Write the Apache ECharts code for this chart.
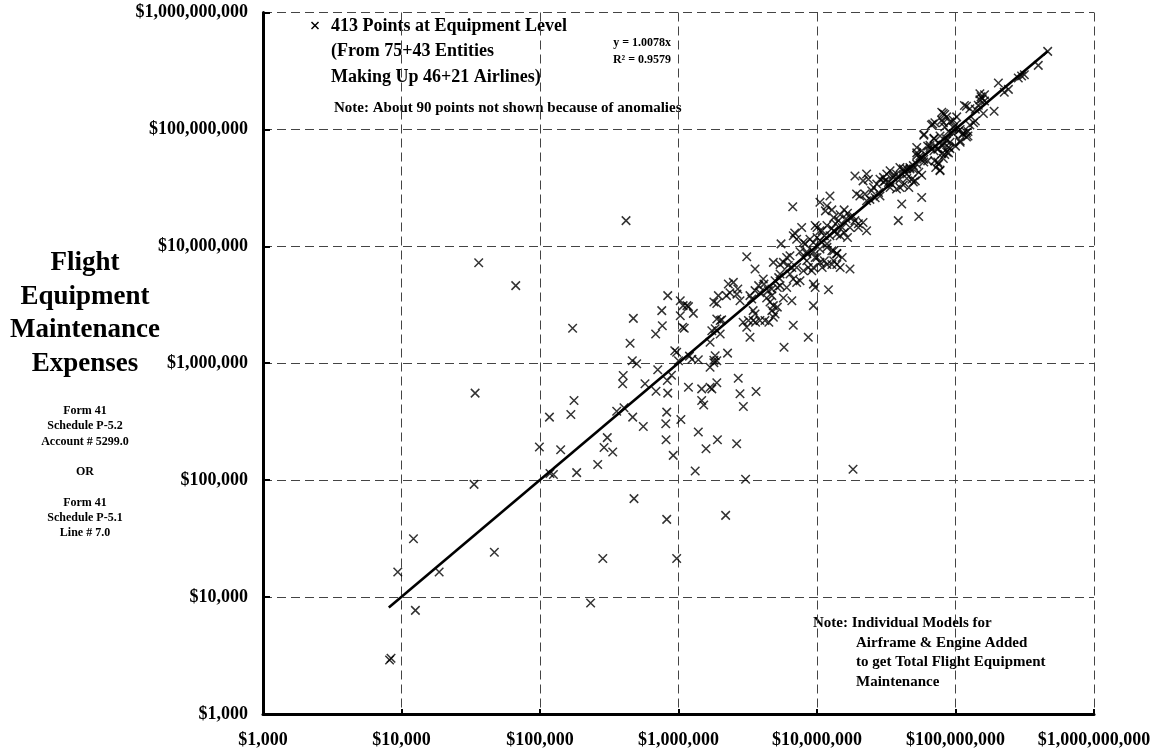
<!DOCTYPE html>
<html>
<head>
<meta charset="utf-8">
<script src="https://cdn.jsdelivr.net/npm/echarts@6/dist/echarts.min.js"></script>
<style>
html,body{margin:0;padding:0;background:#fff;}
#chart{width:1157px;height:754px;}
</style>
</head>
<body>
<div id="chart"></div>
<script>
// ---- Data (x = reported/modelled cost, y = flight equipment maintenance expenses), USD ----
const axisTicks = [1e3, 1e4, 1e5, 1e6, 1e7, 1e8, 1e9];

const lowPoints = [
[9400,16400],[12200,31600],[18700,16400],[12600,7700],[8200,2900],[8400,3000],
[46800,24200],[284000,21400],[970000,21400],[232000,8900],
[418000,16600000],[36100,7240000],[66800,4610000],[172000,1990000],[34000,555000],[33400,92000],
[447000,1480000],[464000,1050000],[499000,990000],[472000,2420000],[836000,3790000],
[1030000,3430000],[1080000,3110000],[757000,2820000],[1030000,2550000],[764000,2090000],
[684000,1780000],[1070000,2030000],[970000,1240000],[708000,879000],[399000,785000],
[395000,667000],[573000,667000],[688000,577000],[830000,711000],[836000,555000],
[176000,480000],[117000,346000],[167000,365000],[358000,389000],[404000,416000],
[467000,346000],[557000,288000],[822000,382000],[809000,304000],[1040000,330000],
[813000,222000],[99000,192000],[141000,182000],[306000,231000],[290000,190000],
[335000,174000],[916000,163000],[261000,136000],[184000,116000],[118000,114000],
[125000,112000],[1320000,120000],[477000,69500],[822000,46200],[1390000,258000],
[1180000,624000],[1200000,1150000],[1250000,1080000]
];

const midPoints = [
[3280000,1670000],[8650000,1670000],[5780000,1370000],[2260000,1220000],[1840000,1160000],
[1800000,1060000],[1690000,1510000],[2000000,1780000],[1470000,604000],[1690000,624000],
[1740000,604000],[1890000,680000],[2700000,745000],[2780000,548000],[3630000,573000],
[2940000,427000],[1470000,480000],[1520000,440000],[1910000,222000],[1580000,186000],
[2630000,205000],[3050000,102000],[2190000,50000],[18200000,124000],
[1150000,3110000],[1180000,3050000],[1280000,2670000],[1100000,1990000],[940000,1280000],
[1390000,1070000],[1000000,1050000],[890000,790000],
[1740000,1900000],[1840000,1970000],[1890000,2390000],[2000000,2320000],[2050000,2350000],
[1800000,3340000],[1890000,3240000],[1940000,3790000],
[2290000,4770000],[2490000,4920000],[2680000,4320000],[2350000,4010000],[2220000,3790000],
[2640000,3900000],[2780000,3430000],
[3110000,8150000],[3570000,6400000],[3280000,3790000],[3380000,3550000],[3570000,4180000],
[3790000,4610000],[3870000,4010000],[4090000,5260000],[4140000,4750000],
[3460000,2820000],[3570000,2640000],[2930000,2240000],[3200000,2320000],[3110000,2030000],
[3460000,2320000],[3600000,2240000],[3870000,2320000],[4210000,2320000],[4490000,2240000],
[4840000,2470000],[4980000,2640000],[4580000,3340000],[4840000,3110000],[5170000,3020000],
[4330000,3620000],[4720000,3790000],
[4450000,4180000],[4720000,4320000],[5170000,4440000],[5410000,4610000],[4980000,5080000],
[5290000,5400000],[5410000,5790000],
[4840000,7290000],[5410000,7000000],[5720000,7290000],[6040000,8030000],[6380000,8300000],
[6200000,6860000],[6580000,6600000],
[5500000,10500000],[6740000,12300000],[7130000,11500000],[7750000,14500000],[7970000,10800000],
[7540000,9000000],[8440000,8660000],
[6740000,5260000],[7130000,4900000],[7540000,5080000],[6580000,3430000],[9160000,6190000],
[8660000,6600000],[9420000,4750000],[9700000,4450000],[12100000,4260000],[9420000,3110000],
[6740000,2110000],
[10000000,14500000],[10900000,13600000],[11800000,15100000],[12800000,14200000],[13900000,12700000],
[10500000,11200000],[11800000,10500000],[12800000,9170000],[13900000,8660000],[13200000,7540000],
[11800000,7000000],[10900000,6600000],[13900000,7000000],
[9420000,9000000],[10000000,8030000],[10500000,7290000],
[1690000,925000],[1800000,1010000],[1890000,1050000],
[4720000,2820000],[5720000,3620000],[6040000,4440000],[6380000,5790000],[7130000,6600000],
[7970000,6190000],[8440000,7540000],
[6680000,21800000],[6900000,13000000]
];

const upperPoints = [
[12400000,26900000],[10500000,23800000],[11800000,22100000],[12800000,20500000],[11500000,20100000],
[15700000,20500000],[16600000,19200000],[14700000,18600000],[17300000,17600000],[16200000,17200000],
[18200000,18100000],[18800000,16600000],[19900000,15600000],[21500000,16000000],[22800000,13600000],
[9700000,15100000],[10500000,13600000],[13200000,13600000],[11300000,12300000],[10000000,11900000],
[8890000,11500000],[12400000,12300000],[14700000,12300000],[16600000,11900000],[15700000,13100000],
[14300000,16600000],[13200000,17600000],[13600000,15600000],[15200000,14500000],[17300000,14500000],
[19900000,14500000],
[8200000,10500000],[9420000,10800000],[10500000,9500000],[11800000,9800000],[13200000,9170000],
[8440000,9000000],[7970000,8030000],[9700000,8030000],[11300000,7540000],[12800000,7000000],
[14700000,6600000],[17300000,6400000],[9420000,6600000],[13900000,8660000],[15200000,8030000],
[39700000,47300000],[42000000,44300000],[44500000,45900000],[37500000,41500000],[35500000,38900000],
[33700000,44300000],[31900000,41500000],[30200000,38900000],[28500000,37500000],[31000000,36300000],
[32800000,35200000],[34600000,34100000],[39700000,37500000],[44500000,41500000],[48400000,37500000],
[51200000,36300000],[46000000,31900000],[39700000,31900000],[37500000,30900000],[33700000,31900000],
[27000000,34100000],[25600000,31900000],[24800000,29900000],[27800000,28900000],[28500000,26900000],
[26300000,26000000],[24100000,25200000],[22200000,28000000],[22800000,24500000],[20400000,26900000],
[19300000,28000000],[18800000,40000000],[22800000,41500000],[23500000,37500000],[21500000,36300000],
[40900000,23000000],[57000000,26200000],[38600000,16600000],[54300000,18000000],
[30200000,35500000],[35500000,40500000],[42000000,46000000]
];

const topPoints = [
[68400000,111000000],[81700000,114000000],[135000000,114000000],[59300000,91000000],[69900000,84000000],
[77300000,88000000],[96400000,104000000],[105000000,97000000],[113000000,91000000],[120000000,94000000],
[108000000,79800000],[123000000,88000000],[86300000,79800000],[79600000,73000000],[89000000,63000000],
[83600000,61000000],[65400000,70000000],[69900000,65600000],[74500000,67600000],
[52500000,63000000],[55400000,59100000],[59000000,55500000],[63000000,53800000],
[70800000,53800000],[75500000,50500000],[72000000,47300000],[77300000,44300000],
[46900000,47300000],[49600000,45900000],[52500000,50500000],
[463000000,465000000],[396000000,353000000],[300000000,286000000],[284000000,275000000],
[314000000,294000000],[241000000,220000000],[225000000,208000000],[204000000,249000000],
[150000000,202000000],[153000000,190000000],[156000000,183000000],[162000000,198000000],
[150000000,179000000],[190000000,143000000],[159000000,137000000],[139000000,149000000],
[127000000,150000000],[120000000,158000000],[116000000,160000000],
[102000000,128000000],[96400000,120000000],[100000000,109000000],[108000000,100000000],
[113000000,92000000],[120000000,86000000],
[81700000,137000000],[86300000,128000000],[79600000,120000000],[91200000,116000000],
[83600000,105000000],[89000000,96000000],[96400000,92000000],[86300000,83000000],
[91200000,77700000],[100000000,72000000],[108000000,77700000],[123000000,96000000],[127000000,109000000],
[67000000,109000000],[59000000,89000000],[63000000,72000000],[69900000,83000000],[74500000,68500000],
[79600000,62000000],[86300000,64000000],[91200000,68500000],[81700000,56500000],[74500000,52600000],
[77300000,45000000],[52500000,60000000],[55400000,56500000],[59000000,52600000],[49600000,49000000],
[46900000,46000000],[54300000,43000000],[57000000,40500000],[49600000,35500000],[44500000,38000000],
[42000000,33500000],
[162000000,175000000],[146000000,161000000],[139000000,118000000],[79600000,140000000],
[83600000,134000000],[71000000,114000000],[52500000,70000000],[57000000,65600000],
[65400000,73000000],[81700000,73500000],[89000000,70000000]
];

// Trend line y = 1.0078x, drawn over the span of the data
const trendLine = [[8100, 8160], [463000000, 466600000]];

const legendLines = ['413 Points at Equipment Level', '(From 75+43 Entities', 'Making Up 46+21 Airlines)'];
const fitText = ['y = 1.0078x', 'R\u00B2 = 0.9579'];
const titleLines = ['Flight', 'Equipment', 'Maintenance', 'Expenses'];
const sourceLines = ['Form 41', 'Schedule P-5.2', 'Account # 5299.0', '', 'OR', '', 'Form 41', 'Schedule P-5.1', 'Line # 7.0'];
const noteTop = 'Note: About 90 points not shown because of anomalies';
const noteBottom = ['Note: Individual Models for', 'Airframe & Engine Added', 'to get Total Flight Equipment', 'Maintenance'];

// ---- Chart ----
const FONT = "'Liberation Serif','Times New Roman',serif";
const allPoints = lowPoints.concat(midPoints, upperPoints, topPoints);
const cross = 'path://M0,0L10,10M0,10L10,0';
const fmt = v => '$' + Math.round(v).toLocaleString('en-US');

const chart = echarts.init(document.getElementById('chart'), null, {renderer: 'canvas'});

const graphics = [];
// legend marker
graphics.push({type: 'line', shape: {x1: 311.5, y1: 22, x2: 318.5, y2: 29}, style: {stroke: '#000', lineWidth: 1.5}});
graphics.push({type: 'line', shape: {x1: 311.5, y1: 29, x2: 318.5, y2: 22}, style: {stroke: '#000', lineWidth: 1.5}});
legendLines.forEach((t, i) => graphics.push({
  type: 'text', x: 331, y: 26 + i * 25.5,
  style: {text: t, font: 'bold 18px ' + FONT, fill: '#000', textVerticalAlign: 'middle', textAlign: 'left'}
}));
fitText.forEach((t, i) => graphics.push({
  type: 'text', x: 671, y: 43 + i * 17,
  style: {text: t, font: 'bold 12px ' + FONT, fill: '#000', textVerticalAlign: 'middle', textAlign: 'right'}
}));
graphics.push({type: 'text', x: 334, y: 108,
  style: {text: noteTop, font: 'bold 15px ' + FONT, fill: '#000', textVerticalAlign: 'middle', textAlign: 'left'}});
noteBottom.forEach((t, i) => graphics.push({
  type: 'text', x: i === 0 ? 813 : 856, y: 623 + i * 19.7,
  style: {text: t, font: 'bold 15px ' + FONT, fill: '#000', textVerticalAlign: 'middle', textAlign: 'left'}
}));
const titleY = [263, 297, 330, 364];
titleLines.forEach((t, i) => graphics.push({
  type: 'text', x: 85, y: titleY[i],
  style: {text: t, font: 'bold 27px ' + FONT, fill: '#000', textVerticalAlign: 'middle', textAlign: 'center'}
}));
sourceLines.forEach((t, i) => { if (t) graphics.push({
  type: 'text', x: 85, y: 411 + i * 15.3,
  style: {text: t, font: 'bold 12px ' + FONT, fill: '#000', textVerticalAlign: 'middle', textAlign: 'center'}
}); });

const axisCommon = {
  type: 'log', logBase: 10, min: axisTicks[0], max: axisTicks[axisTicks.length - 1], splitNumber: 6,
  axisLine: {show: true, onZero: false, lineStyle: {color: '#000', width: 3}},
  axisTick: {show: true, inside: true, length: 5, lineStyle: {color: '#000', width: 2}},
  minorTick: {show: false},
  splitLine: {show: true, showMinLine: true, showMaxLine: true, lineStyle: {color: '#444', width: 1, type: [9, 5]}},
  axisLabel: {formatter: fmt, color: '#000', fontFamily: FONT, fontWeight: 'bold', fontSize: 18, showMinLabel: true, showMaxLabel: true}
};

chart.setOption({
  animation: false,
  backgroundColor: '#fff',
  grid: {left: 263, right: 63, top: 12.5, bottom: 40, containLabel: false},
  xAxis: Object.assign({}, axisCommon, {axisLabel: Object.assign({}, axisCommon.axisLabel, {margin: 17})}),
  yAxis: Object.assign({}, axisCommon, {axisTick: Object.assign({}, axisCommon.axisTick, {length: 7}), axisLabel: Object.assign({}, axisCommon.axisLabel, {margin: 15})}),
  series: [
    {
      type: 'scatter', data: allPoints, symbol: cross, symbolSize: 8.5,
      itemStyle: {color: 'rgba(0,0,0,0)', borderColor: '#000', borderWidth: 1.5},
      z: 3
    },
    {
      type: 'line', data: trendLine, showSymbol: false, symbol: 'none',
      lineStyle: {color: '#000', width: 2.6}, z: 4
    }
  ],
  graphic: graphics
});
</script>
</body>
</html>
